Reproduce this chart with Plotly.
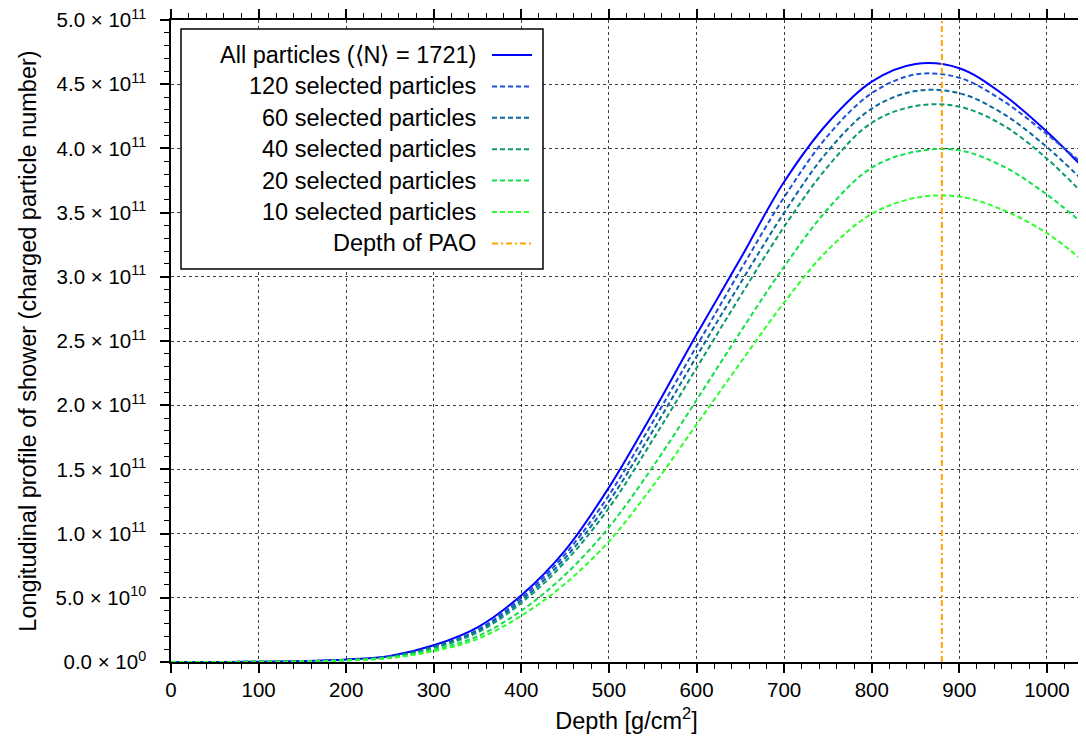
import plotly.graph_objects as go

# depth in g/cm^2, profiles in units of 1e11 charged particles
depth = [0, 50, 100, 150, 200, 250, 300, 350, 400, 450, 500, 550, 600,
         650, 700, 750, 800, 850, 900, 950, 1000, 1040]

n_all = [0, 0.0005, 0.002, 0.007, 0.019, 0.047, 0.13, 0.27, 0.52, 0.87, 1.36, 1.94, 2.55,
         3.14, 3.74, 4.20, 4.52, 4.657, 4.624, 4.42, 4.13, 3.86]
n_120 = [0, 0.0005, 0.002, 0.006, 0.017, 0.043, 0.12, 0.25, 0.50, 0.84, 1.30, 1.87, 2.46,
         3.05, 3.62, 4.10, 4.43, 4.576, 4.55, 4.37, 4.11, 3.885]
n_60 = [0, 0.0005, 0.002, 0.006, 0.016, 0.041, 0.115, 0.24, 0.48, 0.81, 1.25, 1.80, 2.38,
        2.95, 3.50, 3.98, 4.31, 4.447, 4.43, 4.27, 4.01, 3.755]
n_40 = [0, 0.0004, 0.002, 0.005, 0.015, 0.039, 0.11, 0.23, 0.46, 0.78, 1.20, 1.73, 2.29,
        2.85, 3.39, 3.86, 4.20, 4.33, 4.325, 4.18, 3.92, 3.655]
n_20 = [0, 0.0003, 0.0015, 0.004, 0.013, 0.034, 0.095, 0.20, 0.40, 0.68, 1.05, 1.52, 2.04,
        2.57, 3.08, 3.53, 3.85, 3.975, 3.985, 3.86, 3.64, 3.42]
n_10 = [0, 0.0003, 0.0012, 0.0035, 0.012, 0.031, 0.085, 0.18, 0.36, 0.61, 0.94, 1.37, 1.85,
        2.33, 2.80, 3.21, 3.49, 3.615, 3.625, 3.52, 3.34, 3.13]

pao_depth = 880

names = ['All particles (\u27E8N\u27E9 = 1721)', '120 selected particles', '60 selected particles',
         '40 selected particles', '20 selected particles', '10 selected particles']
series = [n_all, n_120, n_60, n_40, n_20, n_10]
colors = ['#0000ff', '#1f50d8', '#0a68a0', '#0b9a6e', '#12e04a', '#2cff2c']
dashes = ['solid', '5px,3px', '5px,3px', '5px,3px', '5px,3px', '5px,3px']

ytick_vals = [0, 0.5, 1.0, 1.5, 2.0, 2.5, 3.0, 3.5, 4.0, 4.5, 5.0]
ytick_text = ['0.0 \u00d7 10<sup>0</sup>', '5.0 \u00d7 10<sup>10</sup>'] + \
             ['%.1f \u00d7 10<sup>11</sup>' % v for v in ytick_vals[2:]]

fig = go.Figure()
for name, ys, col, dsh in zip(names, series, colors, dashes):
    fig.add_trace(go.Scatter(x=depth, y=[v * 1e11 for v in ys], mode='lines', name=name,
                             line=dict(color=col, width=2, dash=dsh, shape='spline', smoothing=1.0)))

fig.add_vline(x=pao_depth, line=dict(color='#ffa500', width=2, dash='6px,3px,2px,3px'))

# page body has an 8px margin, so the figure is laid out 8px smaller
OFF = 8
# plot area in page pixels
L, T, W, H = 171, 20, 911, 642
def px(x):
    return (x - L) / W
def py(y):
    return 1 - (y - T) / H

# gnuplot style key: text right-aligned, sample on the right
fig.add_shape(type='rect', xref='paper', yref='paper', x0=px(181), x1=px(543), y0=py(269), y1=py(29),
              line=dict(color='black', width=1.5), fillcolor='white', layer='above')
key_names = names + ['Depth of PAO']
key_colors = colors + ['#ffa500']
key_dashes = dashes + ['6px,3px,2px,3px']
for i, (nm, col, dsh) in enumerate(zip(key_names, key_colors, key_dashes)):
    yy = 55 + i * 31.4
    fig.add_annotation(xref='paper', yref='paper', x=px(478), y=py(yy), text=nm, showarrow=False,
                       xanchor='right', yanchor='middle', font=dict(size=23.5, color='black'))
    fig.add_shape(type='line', xref='paper', yref='paper', x0=px(492), x1=px(532), y0=py(yy), y1=py(yy),
                  line=dict(color=col, width=2, dash=dsh), layer='above')

axis_common = dict(showline=True, linecolor='black', linewidth=1.5, mirror='ticks',
                   ticks='outside', ticklen=9, tickwidth=1.5, tickcolor='black',
                   showgrid=True, gridcolor='rgba(0,0,0,0.75)', griddash='dot', gridwidth=1,
                   zeroline=False, automargin=False, ticklabeloverflow='allow',
                   tickfont=dict(size=20.5, color='black'))

fig.update_layout(
    width=1086 - OFF, height=738 - OFF,
    margin=dict(l=L - OFF, r=1086 - L - W, t=T - OFF, b=738 - T - H),
    paper_bgcolor='white', plot_bgcolor='white',
    font=dict(family='Liberation Sans, Arial, sans-serif', color='black'),
    showlegend=False,
    xaxis=dict(range=[0, 1040], tickmode='linear', tick0=0, dtick=100,
               minor=dict(tickmode='linear', tick0=0, dtick=20, ticks='outside', ticklen=5,
                          tickwidth=1.2, tickcolor='black', showgrid=False),
               ticklabelstandoff=0,
               title=dict(text='Depth [g/cm<sup>2</sup>]', font=dict(size=23.5), standoff=12),
               **axis_common),
    yaxis=dict(range=[0, 5e11], tickmode='array', tickvals=[v * 1e11 for v in ytick_vals],
               ticktext=ytick_text,
               minor=dict(tickmode='linear', tick0=0, dtick=1e10, ticks='outside', ticklen=5,
                          tickwidth=1.2, tickcolor='black', showgrid=False),
               ticklabelstandoff=10,
               title=dict(text='Longitudinal profile of shower (charged particle number)',
                          font=dict(size=23.5), standoff=12),
               **axis_common),
)

fig.write_html('out.html')
